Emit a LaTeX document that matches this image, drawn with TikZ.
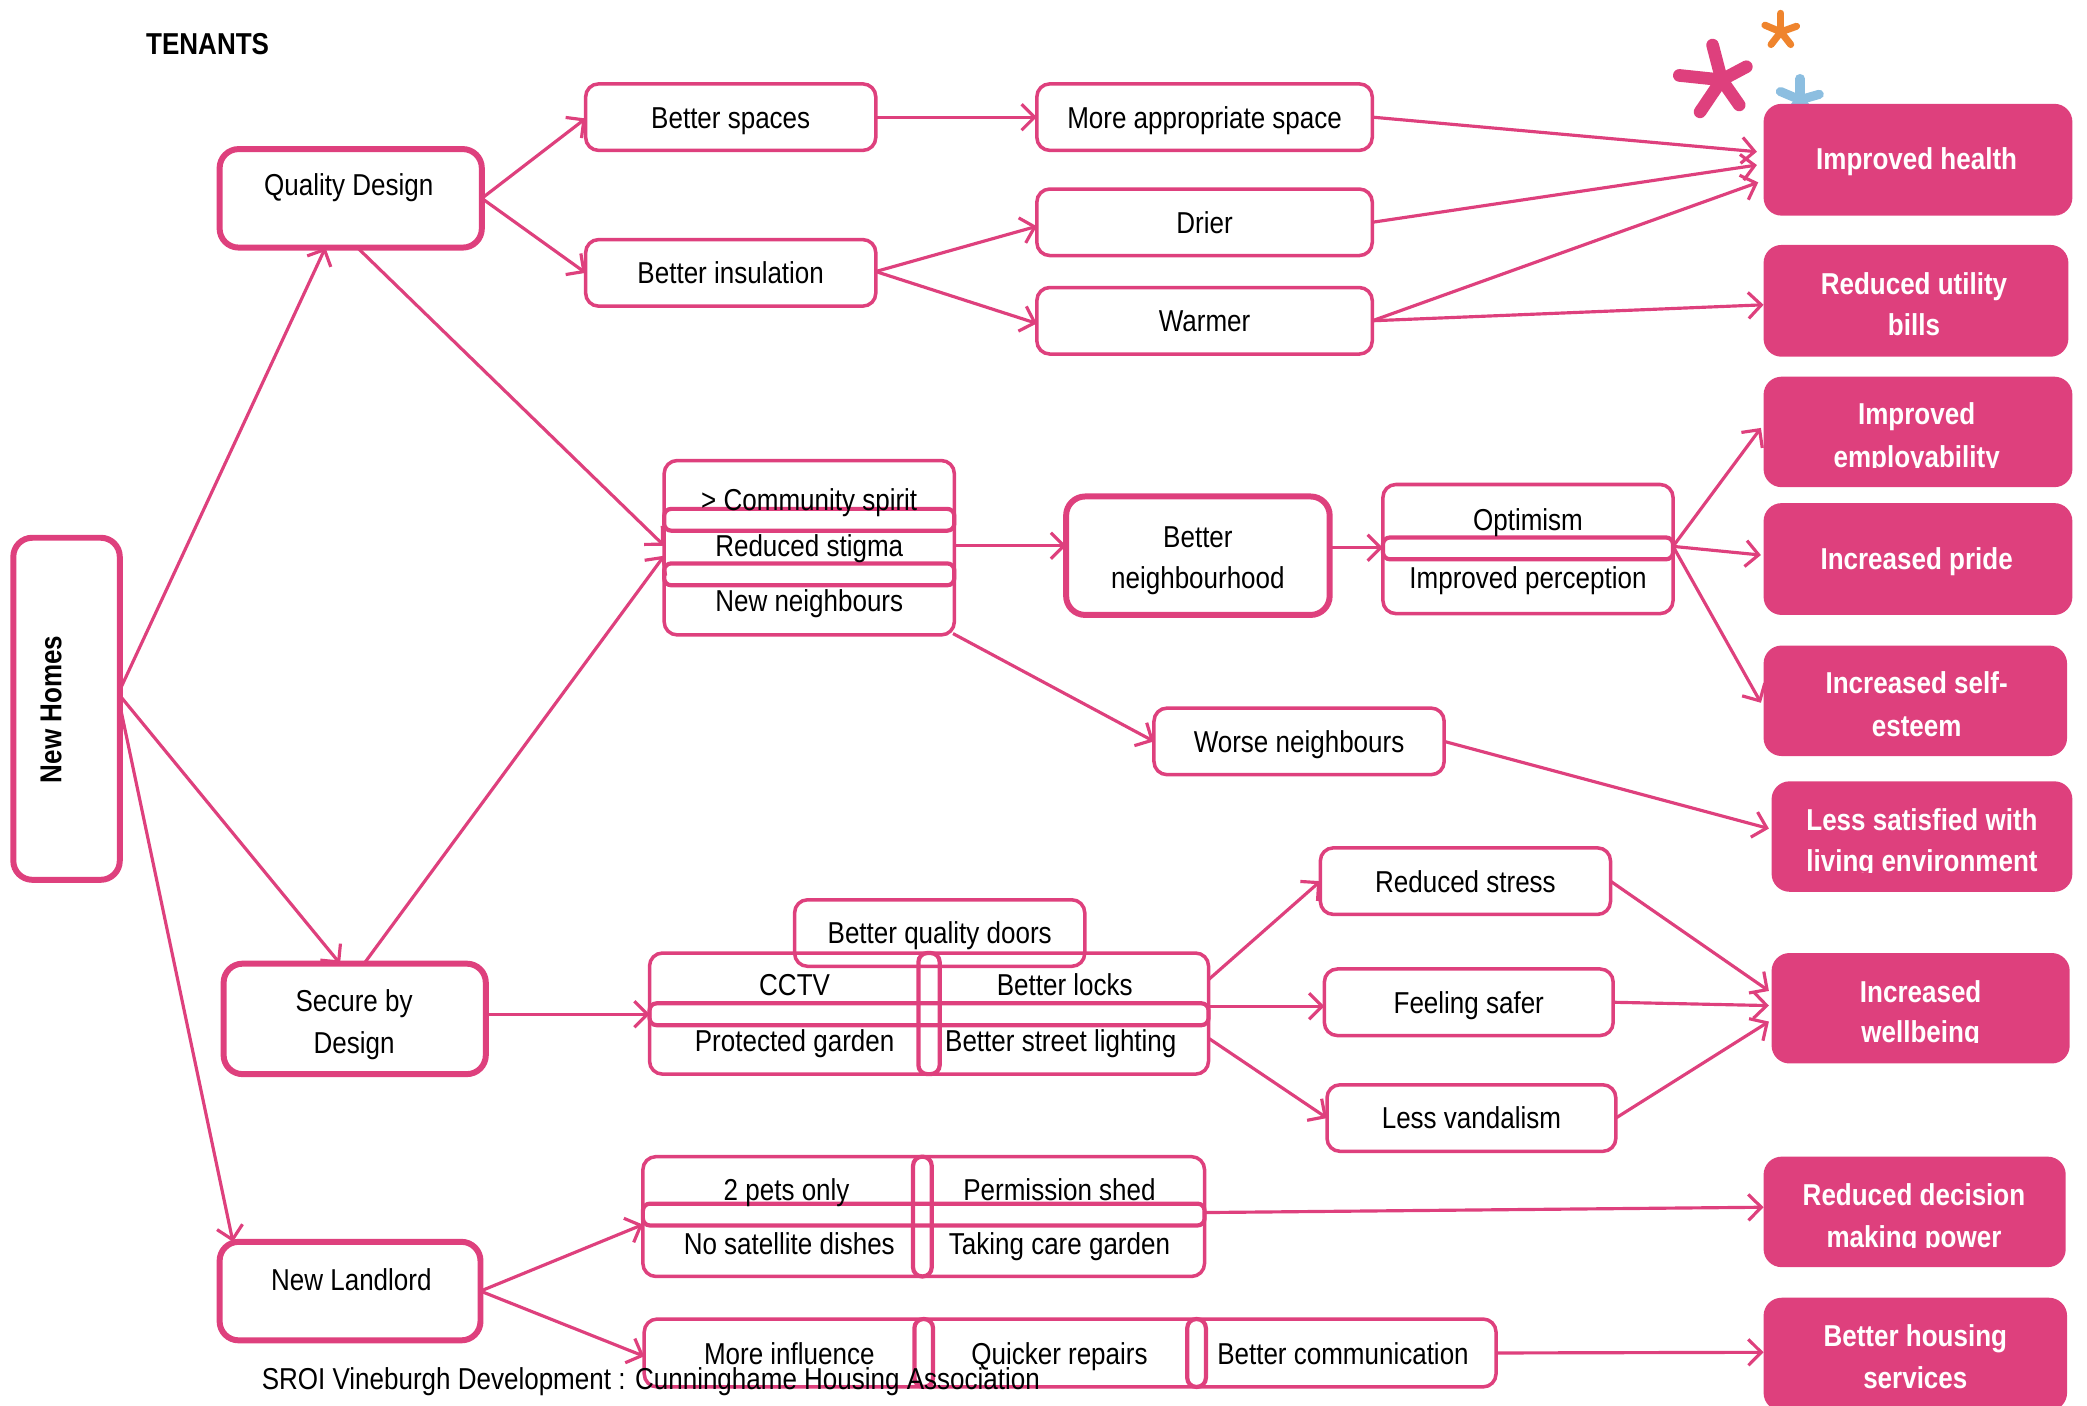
\documentclass[tikz,border=0pt]{standalone}
\usepackage{fontspec}
\setmainfont{Liberation Sans}[FakeStretch=0.86]
\usetikzlibrary{arrows.meta,calc}
\definecolor{pk}{RGB}{222,64,125}
\definecolor{orng}{RGB}{239,132,45}
\definecolor{lblue}{RGB}{140,190,224}
\def\px{0.01331cm}
\begin{document}
\begin{tikzpicture}[x=0.01331cm,y=-0.01331cm,
  every node/.style={inner sep=0pt,outer sep=0pt,text height=6.2pt,text depth=0pt,
    font=\fontsize{8.6}{11.7}\selectfont},
  sz/.style 2 args={minimum width=#1*\px,minimum height=#2*\px},
  tbox/.style={draw=pk,line width=1pt,rounded corners=0.13cm},
  kbox/.style={draw=pk,line width=1.7pt,rounded corners=0.19cm},
  obox/.style={fill=pk,rounded corners=0.18cm},
  otxt/.style={text=white,font=\fontsize{8.6}{11.7}\selectfont\bfseries,anchor=base},
  hpill/.style={draw=pk,line width=1.2pt,rounded corners=0.07cm},
  vpill/.style={draw=pk,line width=1.2pt,rounded corners=0.09cm},
  arr/.style={draw=pk,line width=0.9pt,-{Straight Barb[length=1.3mm,width=2.6mm]}},
  star/.style={line cap=round}
]
\useasboundingbox (0,0) rectangle (1568,1056);

% logo stars
\foreach \a/\l in {104.6/27,174/32,236/29,305/23,28/21}
  \draw[star,pk,line width=3.6pt] (1293.5,60) -- ++(-\a:\l);
\foreach \a/\l in {90/14,157/13,20/12.5,232/12,308/12}
  \draw[star,orng,line width=2pt] (1338,24) -- ++(-\a:\l);
\foreach \a/\l in {90/16,157/16,16/15,232/16,308/16}
  \draw[star,lblue,line width=2.6pt] (1352.4,75) -- ++(-\a:\l);

\node[font=\fontsize{8.6}{11.7}\selectfont\bfseries] (title) at (156,33) {TENANTS};

% drivers
\node[kbox,sz={80}{257}] (nh) at (50,532.5) {};
\node[rotate=90,font=\fontsize{8.6}{11.7}\selectfont\bfseries] (nht) at (38,533) {New Homes};
\node[kbox,sz={197}{74}] (qd) at (263.5,149) {};
\node (qdt) at (262,139) {Quality Design};
\node[kbox,sz={197}{83}] (sbd) at (266.5,765.5) {};
\node (sbdt1) at (266,752) {Secure by};
\node (sbdt2) at (266,783) {Design};
\node[kbox,sz={196}{74}] (nl) at (263,970) {};
\node (nlt) at (264,961) {New Landlord};

% first level
\node[tbox,sz={218}{50}] (bs) at (549,88) {Better spaces};
\node[tbox,sz={218}{50}] (bi) at (549,205) {Better insulation};
\node[tbox,sz={252}{50}] (mas) at (905,88) {More appropriate space};
\node[tbox,sz={252}{50}] (dr) at (905,167) {Drier};
\node[tbox,sz={252}{50}] (wa) at (905,241) {Warmer};

% community group
\node[tbox,sz={218}{131}] (com) at (608,411.5) {};
\node[hpill,sz={218}{11}] (cp1) at (608,390.5) {};
\node[hpill,sz={218}{11}] (cp2) at (608,431.5) {};
\node (ct1) at (608,375) {> Community spirit};
\node (ct2) at (608,410) {Reduced stigma};
\node (ct3) at (608,451) {New neighbours};

\node[kbox,sz={198}{89}] (bn) at (900,417.5) {};
\node (bnt1) at (900,403) {Better};
\node (bnt2) at (900,434) {neighbourhood};

\node[tbox,sz={218}{97}] (opt) at (1148,412.5) {};
\node[hpill,sz={218}{10}] (optp) at (1148,412) {};
\node (optt1) at (1148,390) {Optimism};
\node (optt2) at (1148,434) {Improved perception};

\node[tbox,sz={218}{50}] (wn) at (976,557) {Worse neighbours};

% security group
\node[tbox,sz={420}{91}] (sec) at (698,761.5) {};
\node[tbox,sz={218}{50}] (bqd) at (706,701) {Better quality doors};
\node[vpill,sz={16}{91}] (secv) at (698,761.5) {};
\node[hpill,sz={420}{10}] (sech) at (698,762) {};
\node (st1) at (597,740) {CCTV};
\node (st2) at (800,740) {Better locks};
\node (st3) at (597,782) {Protected garden};
\node (st4) at (797,782) {Better street lighting};

\node[tbox,sz={218}{50}] (rs) at (1101,662) {Reduced stress};
\node[tbox,sz={217}{50}] (fs) at (1103.5,753) {Feeling safer};
\node[tbox,sz={217}{50}] (lv) at (1105.5,840) {Less vandalism};

% landlord groups
\node[tbox,sz={422}{90}] (lg1) at (694,914) {};
\node[vpill,sz={14}{90}] (lg1v) at (693,914) {};
\node[hpill,sz={422}{11}] (lg1h) at (694,912.5) {};
\node (lt1) at (591,894) {2 pets only};
\node (lt2) at (796,894) {Permission shed};
\node (lt3) at (593,934) {No satellite dishes};
\node (lt4) at (796,934) {Taking care garden};

\node[tbox,sz={640}{51}] (lg2) at (804,1016.5) {};
\node[vpill,sz={14}{51}] (lg2v1) at (694,1016.5) {};
\node[vpill,sz={14}{51}] (lg2v2) at (899,1016.5) {};
\node (mt1) at (593,1017) {More influence};
\node (mt2) at (796,1017) {Quicker repairs};
\node (mt3) at (1009,1017) {Better communication};

% outcomes
\node[obox,sz={232}{84}] (ih) at (1441,120) {};
\node[otxt] (iht) at (1440,127) {Improved health};
\node[obox,sz={229}{84}] (rub) at (1439.5,226) {};
\node[otxt] (rubt1) at (1438,221) {Reduced utility};
\node[otxt] (rubt2) at (1438,252) {bills};
\node[obox,sz={232}{83}] (ie) at (1441,324.5) {};
\node[otxt] (iet1) at (1440,319) {Improved};
\begin{scope}
\clip (1325,330) rectangle (1557,351.3);
\node[otxt] (iet2) at (1440,351) {employability};
\end{scope}
\node[obox,sz={232}{84}] (ip) at (1441,420) {};
\node[otxt] (ipt) at (1440,428) {Increased pride};
\node[obox,sz={228}{83}] (ise) at (1439,526.5) {};
\node[otxt] (iset1) at (1440,521) {Increased self-};
\node[otxt] (iset2) at (1440,553) {esteem};
\node[obox,sz={226}{83}] (ls) at (1444,628.5) {};
\node[otxt] (lst1) at (1444,624) {Less satisfied with};
\begin{scope}
\clip (1331,630) rectangle (1557,655.3);
\node[otxt] (lst2) at (1444,655) {living environment};
\end{scope}
\node[obox,sz={224}{83}] (iw) at (1443,757.5) {};
\node[otxt] (iwt1) at (1443,753) {Increased};
\begin{scope}
\clip (1331,760) rectangle (1555,783.3);
\node[otxt] (iwt2) at (1443,783) {wellbeing};
\end{scope}
\node[obox,sz={227}{83}] (rdm) at (1438.5,910.5) {};
\node[otxt] (rdmt1) at (1438,906) {Reduced decision};
\begin{scope}
\clip (1325,912) rectangle (1552,937.3);
\node[otxt] (rdmt2) at (1438,937) {making power};
\end{scope}
\node[obox,sz={228}{85}] (bhs) at (1439,1017.5) {};
\node[otxt] (bhst1) at (1439,1012) {Better housing};
\node[otxt] (bhst2) at (1439,1043) {services};

% connectors
\draw[arr] (qd.east) -- ($(bs.west)+(0,1)$);
\draw[arr] (qd.east) -- (bi.west);
\draw[arr] (bs.east) -- (mas.west);
\draw[arr] ($(bi.east)+(0,-1)$) -- ($(dr.west)+(0,3)$);
\draw[arr] ($(bi.east)+(0,-1)$) -- ($(wa.west)+(0,2)$);
\draw[arr] (mas.east) -- ($(ih.west)+(-5,-6)$);
\draw[arr] (dr.east) -- ($(ih.west)+(-5,4)$);
\draw[arr] (wa.east) -- ($(ih.west)+(-4,17)$);
\draw[arr] (wa.east) -- ($(rub.west)+(0,3)$);
\draw[arr] ($(qd.south)+(5,0)$) -- ($(com.west)+(0,-1.5)$);
\draw[arr] ($(nh.east)+(0,-14)$) -- ($(qd.south)+(-19,0)$);
\draw[arr] ($(nh.east)+(0,-10)$) -- ($(sbd.north)+(-11,0)$);
\draw[arr] ($(nh.east)+(0,-3)$) -- ($(nl.north)+(-88,0)$);
\draw[arr] ($(sbd.north)+(7,0)$) -- ($(com.west)+(0,6)$);
\draw[arr] ($(com.east)+(0,-1.5)$) -- ($(bn.west)+(0,-7.5)$);
\draw[arr] ($(com.south east)+(-1,-1)$) -- (wn.west);
\draw[arr] ($(bn.east)+(0,-6)$) -- ($(opt.west)+(0,-1)$);
\draw[arr] ($(opt.east)+(0,-2)$) -- ($(ie.west)+(-2,-3)$);
\draw[arr] ($(opt.east)+(0,-2)$) -- ($(ip.west)+(-2,-3)$);
\draw[arr] ($(opt.east)+(0,-2)$) -- ($(ise.west)+(-2,1.5)$);
\draw[arr] (wn.east) -- ($(ls.west)+(-2,-6)$);
\draw[arr] ($(sbd.east)+(0,-3.5)$) -- ($(sec.west)+(0,0.5)$);
\draw[arr] ($(sec.east)+(0,-25.5)$) -- (rs.west);
\draw[arr] ($(sec.east)+(0,-5.5)$) -- ($(fs.west)+(0,3)$);
\draw[arr] ($(sec.east)+(0,18.5)$) -- (lv.west);
\draw[arr] (rs.east) -- ($(iw.west)+(-2,-13)$);
\draw[arr] (fs.east) -- ($(iw.west)+(-2,-2)$);
\draw[arr] (lv.east) -- ($(iw.west)+(-2,10)$);
\draw[arr] (nl.east) -- ($(lg1.west)+(0,6)$);
\draw[arr] (nl.east) -- ($(lg2.west)+(0,2.5)$);
\draw[arr] ($(lg1.east)+(0,-3)$) -- ($(rdm.west)+(0,-3.5)$);
\draw[arr] (lg2.east) -- ($(bhs.west)+(0,-1.5)$);

% footer
\node (foot) at (489,1036) {SROI Vineburgh Development : Cunninghame Housing Association};
\end{tikzpicture}
\end{document}
